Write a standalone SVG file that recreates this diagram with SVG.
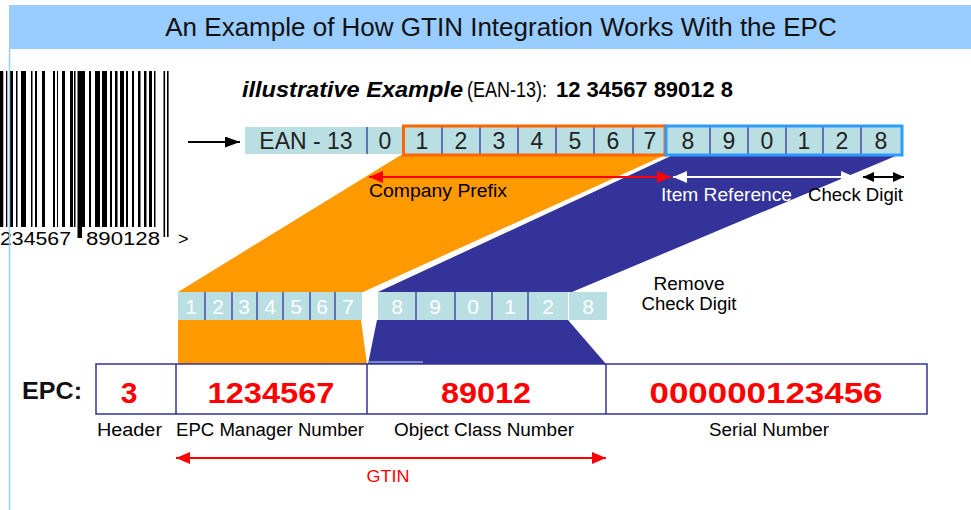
<svg xmlns="http://www.w3.org/2000/svg" width="971" height="510" viewBox="0 0 971 510">
<style>
text{font-family:"Liberation Sans",Arial,sans-serif}
.cell{fill:#B9DFE3}
.div{stroke:#4B4BA8;stroke-width:1.5}
.d1{font-size:23px;fill:#222;text-anchor:middle}
.d2{font-size:21px;fill:#fff;text-anchor:middle}
.lab{font-size:18px;fill:#000}
.red{font-size:30px;font-weight:bold;fill:#FF0000;text-anchor:middle}
.bar{fill:#000}
</style>
<defs>
<marker id="ar" markerUnits="userSpaceOnUse" markerWidth="14" markerHeight="12" refX="14" refY="6" orient="auto-start-reverse"><path d="M0,0 L14,6 L0,12 z" fill="#FF0000"/></marker>
<marker id="aw" markerUnits="userSpaceOnUse" markerWidth="14" markerHeight="12" refX="14" refY="6" orient="auto-start-reverse"><path d="M0,0 L14,6 L0,12 z" fill="#FFFFFF"/></marker>
<marker id="ak" markerUnits="userSpaceOnUse" markerWidth="11" markerHeight="10" refX="11" refY="5" orient="auto-start-reverse"><path d="M0,0 L11,5 L0,10 z" fill="#000"/></marker>
<marker id="ak2" markerUnits="userSpaceOnUse" markerWidth="15" markerHeight="11" refX="15" refY="5.5" orient="auto"><path d="M0,0 L15,5.5 L0,11 z" fill="#000"/></marker>
</defs>
<rect width="971" height="510" fill="#fff"/>

<g id="barcode">
<rect class="bar" x="0" y="71" width="3.3" height="156"/>
<rect class="bar" x="6" y="71" width="1.3" height="156"/>
<rect class="bar" x="9.5" y="71" width="3.5" height="156"/>
<rect class="bar" x="16" y="71" width="1.5" height="156"/>
<rect class="bar" x="21" y="71" width="5" height="156"/>
<rect class="bar" x="31" y="71" width="1.5" height="156"/>
<rect class="bar" x="35" y="71" width="2" height="156"/>
<rect class="bar" x="42" y="71" width="3" height="156"/>
<rect class="bar" x="53" y="71" width="2" height="156"/>
<rect class="bar" x="57" y="71" width="1" height="156"/>
<rect class="bar" x="62" y="71" width="3" height="156"/>
<rect class="bar" x="70" y="71" width="3" height="156"/>
<rect class="bar" x="74" y="71" width="1.5" height="156"/>
<rect class="bar" x="77.5" y="71" width="4.5" height="167"/>
<rect class="bar" x="82" y="71" width="3" height="156"/>
<rect class="bar" x="89" y="71" width="2" height="156"/>
<rect class="bar" x="95" y="71" width="5" height="156"/>
<rect class="bar" x="102" y="71" width="5" height="156"/>
<rect class="bar" x="110" y="71" width="2" height="156"/>
<rect class="bar" x="115" y="71" width="2.5" height="156"/>
<rect class="bar" x="120" y="71" width="4" height="156"/>
<rect class="bar" x="126" y="71" width="2" height="156"/>
<rect class="bar" x="132" y="71" width="2" height="156"/>
<rect class="bar" x="138" y="71" width="2.5" height="156"/>
<rect class="bar" x="144" y="71" width="2.5" height="156"/>
<rect class="bar" x="149" y="71" width="3" height="156"/>
<rect class="bar" x="154" y="71" width="1.5" height="156"/>
<rect class="bar" x="163.5" y="71" width="1.6" height="166"/>
<rect class="bar" x="167" y="71" width="1.6" height="166"/>
<text class="lab" x="0" y="245" textLength="71" lengthAdjust="spacingAndGlyphs">234567</text>
<text class="lab" x="86" y="245" textLength="74" lengthAdjust="spacingAndGlyphs">890128</text>
<text class="lab" x="178" y="245">&gt;</text>
</g>

<g id="title">
<rect x="9" y="5" width="962" height="44" fill="#99CCFF"/>
<text x="501" y="36" font-size="26" fill="#111" text-anchor="middle">An Example of How GTIN Integration Works With the EPC</text>
</g>
<line x1="9.5" y1="49" x2="9.5" y2="510" stroke="#99CCFF" stroke-width="1.5"/>

<g id="example-caption" font-size="22">
<text x="242" y="97" font-weight="bold" font-style="italic" textLength="221" lengthAdjust="spacingAndGlyphs">illustrative Example</text>
<text x="467" y="97" textLength="80" lengthAdjust="spacingAndGlyphs">(EAN-13):</text>
<text x="556" y="97" font-weight="bold" textLength="177" lengthAdjust="spacingAndGlyphs">12 34567 89012 8</text>
</g>

<g id="bands">
<polygon points="401,155 665,155 363,292 178,292" fill="#FF9900"/>
<polygon points="673,155 898,155 572,292 378,292" fill="#333399"/>
<polygon points="178,320 361,320 367,364 178,364" fill="#FF9900"/>
<polygon points="377,320 568,320 606,364 368,364" fill="#333399"/>
<line x1="369" y1="362" x2="423" y2="362" stroke="#8FA8D0" stroke-width="1.5"/>
</g>

<g id="ean13-row">
<rect class="cell" x="245" y="127" width="658" height="27"/>
<line class="div" x1="367" y1="127" x2="367" y2="154"/>
<line class="div" x1="442" y1="127" x2="442" y2="154"/>
<line class="div" x1="480" y1="127" x2="480" y2="154"/>
<line class="div" x1="518" y1="127" x2="518" y2="154"/>
<line class="div" x1="556" y1="127" x2="556" y2="154"/>
<line class="div" x1="594" y1="127" x2="594" y2="154"/>
<line class="div" x1="633" y1="127" x2="633" y2="154"/>
<line class="div" x1="710" y1="127" x2="710" y2="154"/>
<line class="div" x1="748" y1="127" x2="748" y2="154"/>
<line class="div" x1="786" y1="127" x2="786" y2="154"/>
<line class="div" x1="823" y1="127" x2="823" y2="154"/>
<line class="div" x1="861" y1="127" x2="861" y2="154"/>
<rect x="403.5" y="126" width="261.5" height="29" fill="none" stroke="#FF6600" stroke-width="3"/>
<rect x="666" y="126" width="236" height="29" fill="none" stroke="#2E9BFF" stroke-width="3"/>
<text class="d1" x="306" y="149">EAN - 13</text>
<text class="d1" x="385" y="149">0</text>
<text class="d1" x="422" y="149">1</text>
<text class="d1" x="461" y="149">2</text>
<text class="d1" x="499" y="149">3</text>
<text class="d1" x="537" y="149">4</text>
<text class="d1" x="575" y="149">5</text>
<text class="d1" x="613" y="149">6</text>
<text class="d1" x="650" y="149">7</text>
<text class="d1" x="688" y="149">8</text>
<text class="d1" x="729" y="149">9</text>
<text class="d1" x="767" y="149">0</text>
<text class="d1" x="804" y="149">1</text>
<text class="d1" x="842" y="149">2</text>
<text class="d1" x="881" y="149">8</text>
</g>

<g id="split-row">
<rect class="cell" x="178" y="292" width="184" height="28"/>
<rect class="cell" x="378" y="292" width="190" height="28"/>
<rect class="cell" x="569" y="292" width="38" height="28"/>
<line class="div" x1="205" y1="292" x2="205" y2="320"/>
<line class="div" x1="232" y1="292" x2="232" y2="320"/>
<line class="div" x1="257" y1="292" x2="257" y2="320"/>
<line class="div" x1="283" y1="292" x2="283" y2="320"/>
<line class="div" x1="310" y1="292" x2="310" y2="320"/>
<line class="div" x1="335" y1="292" x2="335" y2="320"/>
<line class="div" x1="416" y1="292" x2="416" y2="320"/>
<line class="div" x1="455" y1="292" x2="455" y2="320"/>
<line class="div" x1="492" y1="292" x2="492" y2="320"/>
<line class="div" x1="528" y1="292" x2="528" y2="320"/>
<text class="d2" x="191" y="314">1</text>
<text class="d2" x="218" y="314">2</text>
<text class="d2" x="244" y="314">3</text>
<text class="d2" x="270" y="314">4</text>
<text class="d2" x="296" y="314">5</text>
<text class="d2" x="322" y="314">6</text>
<text class="d2" x="348" y="314">7</text>
<text class="d2" x="397" y="314">8</text>
<text class="d2" x="435" y="314">9</text>
<text class="d2" x="473" y="314">0</text>
<text class="d2" x="510" y="314">1</text>
<text class="d2" x="548" y="314">2</text>
<text class="d2" x="588" y="314">8</text>
</g>

<g id="epc-row">
<text x="22" y="399" font-size="24" font-weight="bold" fill="#111" textLength="60" lengthAdjust="spacingAndGlyphs">EPC:</text>
<rect x="96" y="364" width="831" height="50" fill="#fff" stroke="#333399" stroke-width="1.5"/>
<line x1="176" y1="364" x2="176" y2="414" stroke="#333399" stroke-width="1.5"/>
<line x1="367" y1="364" x2="367" y2="414" stroke="#333399" stroke-width="1.5"/>
<line x1="606" y1="364" x2="606" y2="414" stroke="#333399" stroke-width="1.5"/>
<text class="red" x="129" y="403">3</text>
<text class="red" x="271" y="403" textLength="127" lengthAdjust="spacingAndGlyphs">1234567</text>
<text class="red" x="486" y="403" textLength="90" lengthAdjust="spacingAndGlyphs">89012</text>
<text class="red" x="766" y="403" textLength="233" lengthAdjust="spacingAndGlyphs">000000123456</text>
</g>

<g id="labels">
<text class="lab" x="369" y="197" textLength="138" lengthAdjust="spacingAndGlyphs">Company Prefix</text>
<text class="lab" x="661" y="201" style="fill:#fff" textLength="131" lengthAdjust="spacingAndGlyphs">Item Reference</text>
<text class="lab" x="808" y="201" textLength="95" lengthAdjust="spacingAndGlyphs">Check Digit</text>
<text class="lab" x="689" y="290" text-anchor="middle" textLength="71" lengthAdjust="spacingAndGlyphs">Remove</text>
<text class="lab" x="689" y="310" text-anchor="middle" textLength="95" lengthAdjust="spacingAndGlyphs">Check Digit</text>
<text class="lab" x="97" y="436" textLength="65" lengthAdjust="spacingAndGlyphs">Header</text>
<text class="lab" x="176" y="436" textLength="188" lengthAdjust="spacingAndGlyphs">EPC Manager Number</text>
<text class="lab" x="394" y="436" textLength="180" lengthAdjust="spacingAndGlyphs">Object Class Number</text>
<text class="lab" x="709" y="436" textLength="120" lengthAdjust="spacingAndGlyphs">Serial Number</text>
<text x="388" y="482" font-size="17" fill="#FF0000" text-anchor="middle" textLength="43" lengthAdjust="spacingAndGlyphs">GTIN</text>
</g>

<g id="connectors">
<line x1="188" y1="142" x2="240" y2="142" stroke="#000" stroke-width="2" marker-end="url(#ak2)"/>
<line x1="369" y1="177" x2="671" y2="177" stroke="#FF0000" stroke-width="2" marker-start="url(#ar)" marker-end="url(#ar)"/>
<line x1="673" y1="177" x2="855" y2="177" stroke="#FFFFFF" stroke-width="2" marker-start="url(#aw)" marker-end="url(#aw)"/>
<line x1="863" y1="177" x2="904" y2="177" stroke="#000" stroke-width="2" marker-start="url(#ak)" marker-end="url(#ak)"/>
<line x1="176" y1="458" x2="606" y2="458" stroke="#FF0000" stroke-width="2" marker-start="url(#ar)" marker-end="url(#ar)"/>
</g>
</svg>
